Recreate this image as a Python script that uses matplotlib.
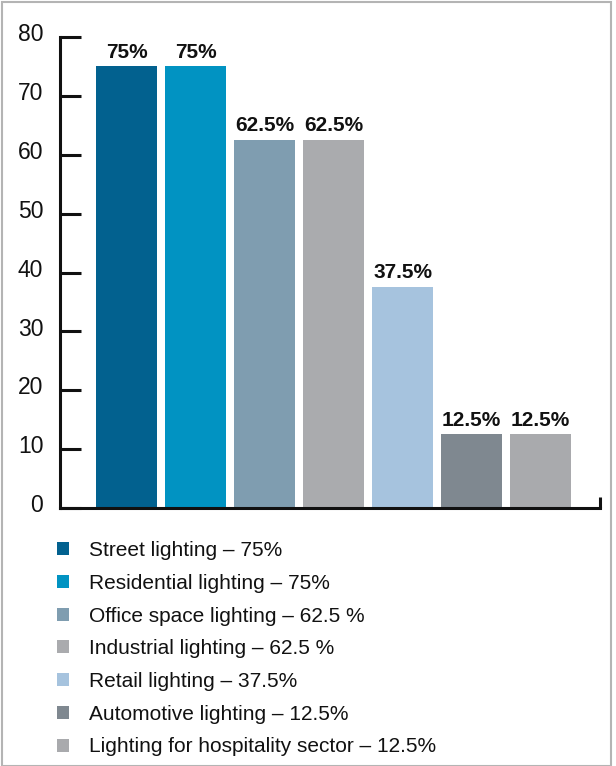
import matplotlib
matplotlib.use("Agg")
import matplotlib.pyplot as plt
import matplotlib.transforms as mtransforms
from matplotlib.patches import Patch, Rectangle
import numpy as np

categorias = [
    "Street lighting",
    "Residential lighting",
    "Office space lighting",
    "Industrial lighting",
    "Retail lighting",
    "Automotive lighting",
    "Lighting for hospitality sector",
]
valores = [75, 75, 62.5, 62.5, 37.5, 12.5, 12.5]
rotulos_barras = ["75%", "75%", "62.5%", "62.5%", "37.5%", "12.5%", "12.5%"]
rotulos_legenda = [
    "Street lighting \u2013 75%",
    "Residential lighting \u2013 75%",
    "Office space lighting \u2013 62.5 %",
    "Industrial lighting \u2013 62.5 %",
    "Retail lighting \u2013 37.5%",
    "Automotive lighting \u2013 12.5%",
    "Lighting for hospitality sector \u2013 12.5%",
]
cores = ["#02618f", "#0193c2", "#7f9db0", "#aaabae", "#a6c3de", "#7f8890", "#a9aaad"]
yticks = [0, 10, 20, 30, 40, 50, 60, 70, 80]

plt.rcParams["font.family"] = ["Liberation Sans", "DejaVu Sans"]

W, H = 616, 766
fig = plt.figure(figsize=(W / 100, H / 100), dpi=100)
ax = fig.add_axes([60 / W, (H - 508) / H, 540 / W, 471 / H])

x = np.arange(len(valores))
ax.bar(x, valores, width=0.88, color=cores, zorder=2)
passo = 69.0
x0 = -(126.5 - 60) / passo
x1 = x0 + 540 / passo
ax.set_xlim(x0, x1)
ax.set_ylim(0, 80)

for xi, v, r in zip(x, valores, rotulos_barras):
    ax.annotate(r, (xi, v), xytext=(0, 3.5), textcoords="offset points",
                ha="center", va="bottom", fontsize=15, fontweight="bold",
                color="#111111")

for lado in ("top", "right"):
    ax.spines[lado].set_visible(False)
for lado in ("left", "bottom"):
    ax.spines[lado].set_linewidth(2.2)
    ax.spines[lado].set_color("#111111")

ax.set_yticks(yticks)
ax.tick_params(axis="y", direction="in", length=15, width=2.2, pad=12,
               labelsize=16.5, colors="#111111")
ax.set_xticks([x1])
ax.set_xticklabels([""])
ax.tick_params(axis="x", direction="in", length=8, width=2.2, colors="#111111")

desloc = mtransforms.ScaledTranslation(0, 3.5 / 72, fig.dpi_scale_trans)
for lbl in ax.get_yticklabels():
    lbl.set_transform(lbl.get_transform() + desloc)

handles = [Patch(facecolor=c, edgecolor="none") for c in cores]
fig.legend(handles, rotulos_legenda, loc="upper left",
           bbox_to_anchor=(57 / W, 1 - 541 / H), frameon=False,
           fontsize=15, handlelength=0.58, handleheight=0.58,
           handletextpad=0.95, labelspacing=0.66, borderaxespad=0,
           borderpad=0, labelcolor="#111111")

fig.patches.append(Rectangle((2 / W, 0), 609 / W, 1 - 2 / H, transform=fig.transFigure,
                             fill=False, edgecolor="#b4b4b4", linewidth=1.5))

fig.savefig("out.png", dpi=100)
